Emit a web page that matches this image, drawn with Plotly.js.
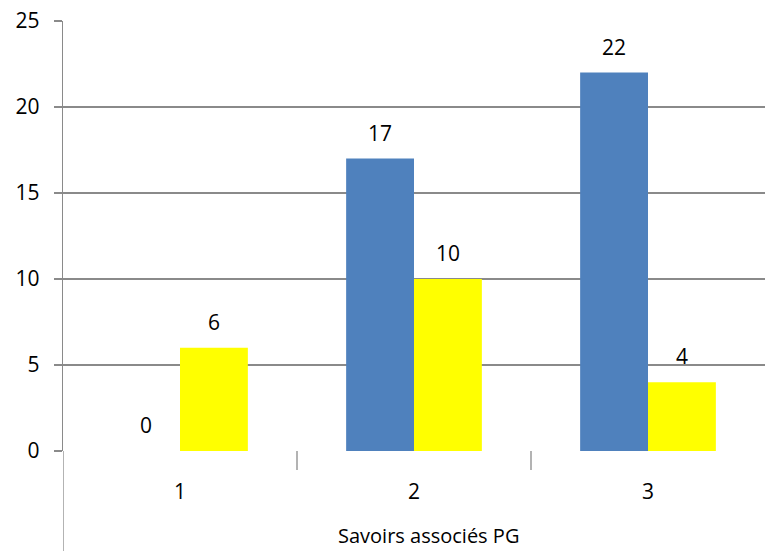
<!DOCTYPE html>
<html><head><meta charset="utf-8">
<script src="https://cdn.plot.ly/plotly-3.0.1.min.js"></script>
<style>body{margin:0;padding:0;background:#fff}</style>
</head><body>
<div id="chart" style="width:766px;height:551px"></div>
<script>
const categories = [1, 2, 3];
const categoryLabels = ["1", "2", "3"];
const seriesA = [0, 17, 22];
const seriesB = [6, 10, 4];
const yTicks = [0, 5, 10, 15, 20, 25];
const xTitle = "Savoirs associés PG";

const FONT = "Open Sans, Noto Sans, sans-serif";
const FS = 21;
const GRID = "#8a8a8a";

const traces = [
  {type: "bar", x: categories, y: seriesA, name: "A", marker: {color: "#4F81BD"}},
  {type: "bar", x: categories, y: seriesB, name: "B", marker: {color: "#FFFF00"}}
];

const plotH = 551 - 21 - 100;
const plotW = 766 - 63 - 1;

const annotations = [];
categories.forEach((c, i) => {
  annotations.push({x: c, y: seriesA[i], xref: "x", yref: "y", text: String(seriesA[i]),
    showarrow: false, xshift: -34, yshift: 26, yanchor: "middle",
    font: {family: FONT, size: FS, color: "#000"}});
  annotations.push({x: c, y: seriesB[i], xref: "x", yref: "y", text: String(seriesB[i]),
    showarrow: false, xshift: 34, yshift: 26, yanchor: "middle",
    font: {family: FONT, size: FS, color: "#000"}});
});
annotations.push({xref: "paper", yref: "paper", x: (428 - 63) / plotW, y: -(535 - 451) / plotH,
  xanchor: "center", yanchor: "middle", showarrow: false, text: xTitle,
  font: {family: FONT, size: 20, color: "#000"}});

const shapes = [
  {type: "line", xref: "x", yref: "paper", x0: 1.5, x1: 1.5, y0: 0, y1: -19 / plotH, line: {color: GRID, width: 1.3}},
  {type: "line", xref: "x", yref: "paper", x0: 2.5, x1: 2.5, y0: 0, y1: -19 / plotH, line: {color: GRID, width: 1.3}},
  {type: "line", xref: "x", yref: "paper", x0: 0.5, x1: 0.5, y0: 0, y1: -100 / plotH, line: {color: GRID, width: 1.3}}
];

const layout = {
  width: 766, height: 551,
  margin: {l: 63, r: 1, t: 21, b: 100},
  paper_bgcolor: "#fff", plot_bgcolor: "#fff",
  showlegend: false,
  barmode: "group", bargap: 0.42, bargroupgap: 0,
  font: {family: FONT, size: FS, color: "#000"},
  xaxis: {
    range: [0.5, 3.5], tickvals: categories, ticktext: categoryLabels,
    showgrid: false, zeroline: false, showline: false, ticks: "",
    ticklabelstandoff: 26,
    fixedrange: true
  },
  yaxis: {
    range: [0, 25], tickvals: yTicks, showgrid: true, gridcolor: GRID, gridwidth: 1.3,
    zeroline: false, showline: true, linecolor: GRID, linewidth: 1.3,
    ticks: "outside", ticklen: 8, tickcolor: GRID, tickwidth: 1.3,
    ticklabelstandoff: 10, fixedrange: true
  },
  annotations: annotations,
  shapes: shapes
};

Plotly.newPlot("chart", traces, layout, {displayModeBar: false, staticPlot: true});
</script>
</body></html>
